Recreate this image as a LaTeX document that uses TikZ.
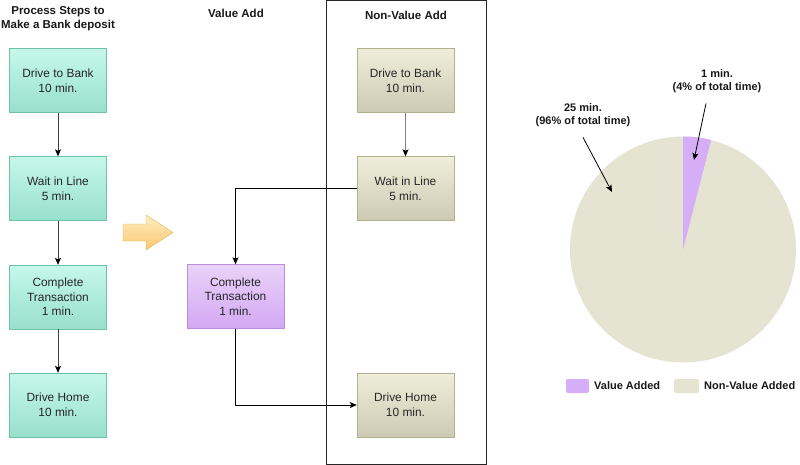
\documentclass[tikz,border=0pt]{standalone}
\usepackage{fontspec}
\setmainfont{Liberation Sans}
\usepackage{tikz}
\usetikzlibrary{arrows.meta}
\definecolor{tealtop}{HTML}{C6F8EA}
\definecolor{tealbot}{HTML}{98E0CB}
\definecolor{tealline}{HTML}{6FC2A8}
\definecolor{tantop}{HTML}{EFEEDA}
\definecolor{tanbot}{HTML}{CDCAB4}
\definecolor{tanline}{HTML}{B3B08E}
\definecolor{vatop}{HTML}{E9D2F8}
\definecolor{vabot}{HTML}{D4A8F4}
\definecolor{valine}{HTML}{B98CDC}
\definecolor{pietan}{HTML}{E5E3D1}
\definecolor{pieva}{HTML}{D5AEF7}
\definecolor{arrtop}{HTML}{FFEDC0}
\definecolor{arrbot}{HTML}{F8C870}
\definecolor{arrline}{HTML}{E2B253}
\tikzstyle{graph}=[x=1pt, y=-1pt, font=\fontsize{11.9}{14.6}\selectfont, text=black!85]
\tikzstyle{proc}=[rectangle, draw=tealline, top color=tealtop, bottom color=tealbot, minimum width=97pt, minimum height=64pt, align=center, inner sep=2pt]
\tikzstyle{nva}=[proc, draw=tanline, top color=tantop, bottom color=tanbot]
\tikzstyle{va}=[proc, draw=valine, top color=vatop, bottom color=vabot]
\tikzstyle{title}=[font=\fontsize{11.5}{14}\selectfont\bfseries, align=center, text=black!90]
\tikzstyle{edge}=[-{Stealth[length=7pt, width=6pt, inset=1.5pt, color=black]}, line width=0.9pt, draw=black!75]
\tikzstyle{flow}=[-{Stealth[length=7pt, width=6pt, inset=1.5pt]}, line width=0.8pt, draw=black]
\tikzstyle{pieLabel}=[font=\fontsize{11}{13.5}\selectfont\bfseries, align=center, text=black!90]

\begin{document}
\begin{tikzpicture}[graph]
	\useasboundingbox (0,0) rectangle (800,465);
	% titles
	\draw (58,19) node[title] (tproc) {Process Steps to\\Make a Bank deposit};
	\draw (236,13) node[title] (tva) {Value Add};
	\draw (406,15) node[title] (tnva) {Non-Value Add};
	\draw[black!85] (326,0) rectangle (486,464);
	% process steps
	\draw (58,80.5) node[proc] (p1) {Drive to Bank\\10 min.};
	\draw (58,188.5) node[proc] (p2) {Wait in Line\\5 min.};
	\draw (58,297) node[proc] (p3) {Complete\\Transaction\\1 min.};
	\draw (58,405) node[proc] (p4) {Drive Home\\10 min.};
	\draw[edge] (p1) -- (p2);
	\draw[edge] (p2) -- (p3);
	\draw[edge] (p3) -- (p4);
	% fat arrow
	\draw[arrline, top color=arrtop, bottom color=arrbot] (123,224) -- (146,224) -- (146,215) -- (173,232.5) -- (146,250) -- (146,241) -- (123,241) -- cycle;
	% value / non-value
	\draw (405.5,80.5) node[nva] (n1) {Drive to Bank\\10 min.};
	\draw (405.5,188.5) node[nva] (n2) {Wait in Line\\5 min.};
	\draw (235.5,296.5) node[va] (v1) {Complete\\Transaction\\1 min.};
	\draw (405.5,405) node[nva] (n4) {Drive Home\\10 min.};
	\draw[edge, draw=black!50] (n1) -- (n2);
	\draw[flow] (n2.west) -| (v1.north);
	\draw[flow] (v1.south) |- (n4.west);
	% pie
	\fill[pietan] (683,249.5) circle (113);
	\fill[pieva] (683,249.5) -- ++(-90:113) arc (-90:-75.6:113) -- cycle;
	\draw (717,81) node[pieLabel] (l1) {1 min.\\(4\% of total time)};
	\draw (583,115) node[pieLabel] (l2) {25 min.\\(96\% of total time)};
	\coordinate (c1) at (694,160);
	\coordinate (c2) at (612,192);
	\draw[flow] (l1.south) ++(-11,7) -- (c1);
	\draw[flow] (l2.south) ++(0,7) -- (c2);
	% legend
	\fill[pieva, rounded corners=2pt] (566,379) rectangle (589,393);
	\draw (594,386) node[pieLabel, anchor=west, inner sep=0pt] (lg1) {Value Added};
	\fill[pietan, rounded corners=2pt] (674,379) rectangle (699,393);
	\draw (704,386) node[pieLabel, anchor=west, inner sep=0pt] (lg2) {Non-Value Added};
\end{tikzpicture}
\end{document}
